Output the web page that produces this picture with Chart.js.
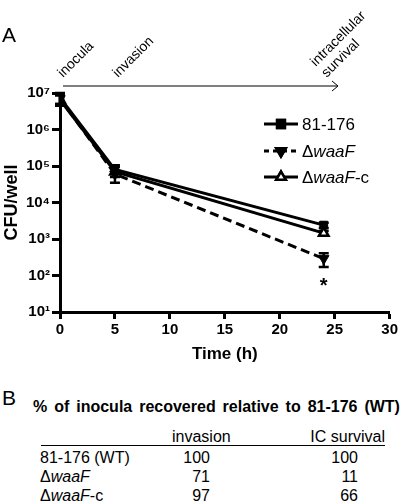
<!DOCTYPE html>
<html>
<head>
<meta charset="utf-8">
<script src="https://cdn.jsdelivr.net/npm/chart.js@4.4.0/dist/chart.umd.min.js"></script>
<style>
  body { margin: 0; background: #fff; font-family: "Liberation Sans", Arial, sans-serif; color: #000; }
  #wrap { position: relative; width: 400px; height: 503px; overflow: hidden; }
  #canvas { position: absolute; left: 0; top: 0; }
  .abs { position: absolute; white-space: nowrap; }
  .panel { font-size: 21px; }
  .tbl { font-size: 16px; line-height: 18px; }
  .r { text-align: right; }
  i { font-style: italic; }
</style>
</head>
<body>
<div id="wrap">
  <canvas id="canvas" width="400" height="370"></canvas>
  <div class="abs panel" style="left:2px; top:23px;">A</div>
  <div class="abs panel" style="left:2px; top:386px;">B</div>
  <div class="abs" id="tabTitle" style="left:33px; top:398px; font-size:16px; font-weight:bold; word-spacing:2.5px;"></div>
  <div id="tab"></div>
</div>
<script>
// panel A data
let times = [0, 5, 24];
let wt = [7.5e6, 8e4, 2.4e3];
let wtErr = [2.5e6, 1.5e4, 4e2];
let waaF = [7e6, 6e4, 2.9e2];
let waaFErr = [2e6, 1e4, 1.2e2];
let waaFc = [6.5e6, 7e4, 1.45e3];
let waaFcErr = [2e6, 3.5e4, 2e2];

let xTicks = [0, 5, 10, 15, 20, 25, 30];
let yTicks = [1e1, 1e2, 1e3, 1e4, 1e5, 1e6, 1e7];
let yTickLabels = ['10\u00B9', '10\u00B2', '10\u00B3', '10\u2074', '10\u2075', '10\u2076', '10\u2077'];

// stages above the plot
let stageX = [0, 5, 24];
let stageLabels = [['inocula'], ['invasion'], ['intracellular', 'survival']];
let arrowEnd = 25.3;
let starPoint = {x: 24, y: 66};

// panel B table
let tableTitle = '% of inocula recovered relative to 81-176 (WT)';
let tableCols = ['invasion', 'IC survival'];
let tableRows = ['81-176 (WT)', '\u0394<i>waaF</i>', '\u0394<i>waaF</i>-c'];
let invasionPct = [100, 71, 97];
let survivalPct = [100, 11, 66];

let FONT = '"Liberation Sans", Arial, sans-serif';
let errs = [wtErr, waaFErr, waaFcErr];

let extras = {
  id: 'extras',
  beforeDatasetsDraw(chart) {
    let ctx = chart.ctx;
    let xs = chart.scales.x, ys = chart.scales.y;
    ctx.save();
    ctx.strokeStyle = '#000';
    ctx.lineWidth = 2.5;
    chart.data.datasets.forEach(function(ds, i) {
      for (let j = 0; j < times.length; j++) {
        let x = xs.getPixelForValue(times[j]);
        let v = ds.data[j].y, e = errs[i][j];
        let y1 = ys.getPixelForValue(v + e);
        let y2 = ys.getPixelForValue(v - e);
        ctx.beginPath();
        ctx.moveTo(x, y1); ctx.lineTo(x, y2);
        ctx.moveTo(x - 5, y1); ctx.lineTo(x + 5, y1);
        ctx.moveTo(x - 5, y2); ctx.lineTo(x + 5, y2);
        ctx.stroke();
      }
    });
    ctx.restore();
  },
  afterDraw(chart) {
    let ctx = chart.ctx;
    let xs = chart.scales.x, ys = chart.scales.y;
    ctx.save();
    // arrow
    let ay = 86;
    let ax1 = xs.getPixelForValue(0) + 3, ax2 = xs.getPixelForValue(arrowEnd);
    ctx.strokeStyle = '#000';
    ctx.lineWidth = 1;
    ctx.beginPath();
    ctx.moveTo(ax1, ay); ctx.lineTo(ax2, ay);
    ctx.moveTo(ax2 - 6, ay - 5); ctx.lineTo(ax2, ay); ctx.lineTo(ax2 - 6, ay + 5);
    ctx.stroke();
    // rotated stage labels
    ctx.fillStyle = '#000';
    ctx.font = '14px ' + FONT;
    ctx.textAlign = 'left';
    ctx.textBaseline = 'alphabetic';
    stageLabels.forEach(function(lines, i) {
      let bx = xs.getPixelForValue(stageX[i]) + 3;
      let by = 78;
      for (let k = lines.length - 1, n = 0; k >= 0; k--, n++) {
        ctx.save();
        ctx.translate(bx - n * 11, by - n * 11);
        ctx.rotate(-Math.PI / 4);
        ctx.fillText(lines[k], 0, 0);
        ctx.restore();
      }
    });
    // significance mark
    ctx.font = 'bold 20px ' + FONT;
    ctx.textAlign = 'center';
    ctx.fillText('*', xs.getPixelForValue(starPoint.x), ys.getPixelForValue(starPoint.y) + 10);
    // legend
    let rows = [
      {y: 124, dash: [], style: 'rect', fill: '#000', rot: 0, parts: [['81-176', false]]},
      {y: 151, dash: [5, 4], style: 'triangle', fill: '#000', rot: 180, parts: [['\u0394', false], ['waaF', true]]},
      {y: 177, dash: [], style: 'triangle', fill: '#fff', rot: 0, parts: [['\u0394', false], ['waaF', true], ['-c', false]]}
    ];
    rows.forEach(function(r) {
      ctx.save();
      ctx.lineWidth = 3;
      ctx.setLineDash(r.dash);
      ctx.beginPath();
      ctx.moveTo(264, r.y); ctx.lineTo(298, r.y);
      ctx.stroke();
      ctx.restore();
      ctx.save();
      ctx.fillStyle = r.fill;
      ctx.lineWidth = 2.5;
      Chart.helpers.drawPoint(ctx, {pointStyle: r.style, radius: 5.5, rotation: r.rot, borderWidth: 2.5}, 281, r.y);
      ctx.fill();
      ctx.stroke();
      ctx.restore();
      let tx = 302;
      ctx.textAlign = 'left';
      ctx.textBaseline = 'middle';
      r.parts.forEach(function(p) {
        ctx.font = (p[1] ? 'italic ' : '') + '17px ' + FONT;
        ctx.fillText(p[0], tx, r.y + 1);
        tx += ctx.measureText(p[0]).width;
      });
    });
    ctx.restore();
  }
};

function pts(vals) {
  return vals.map(function(v, i) { return {x: times[i], y: v}; });
}

let configuracao = {
  type: 'line',
  data: {
    datasets: [{
      label: '81-176',
      data: pts(wt),
      borderColor: '#000',
      backgroundColor: '#000',
      borderWidth: 3,
      pointStyle: 'rect',
      pointRadius: 5.5,
      pointBorderWidth: 1
    }, {
      label: '\u0394waaF',
      data: pts(waaF),
      borderColor: '#000',
      backgroundColor: '#000',
      borderWidth: 3,
      borderDash: [9, 5],
      pointStyle: 'triangle',
      rotation: 180,
      pointRadius: 6,
      pointBorderWidth: 1
    }, {
      label: '\u0394waaF-c',
      data: pts(waaFc),
      borderColor: '#000',
      backgroundColor: '#fff',
      pointBackgroundColor: '#fff',
      borderWidth: 3,
      pointStyle: 'triangle',
      pointRadius: 5.5,
      pointBorderWidth: 2.5
    }]
  },
  options: {
    responsive: false,
    animation: false,
    devicePixelRatio: 1,
    layout: { padding: { top: 93, right: 10, left: 0, bottom: 0 } },
    plugins: {
      legend: { display: false },
      tooltip: { enabled: false }
    },
    scales: {
      x: {
        type: 'linear',
        min: 0,
        max: 30,
        afterFit: function(s) { s.height = 58; },
        afterBuildTicks: function(s) { s.ticks = xTicks.map(function(v) { return {value: v}; }); },
        ticks: { color: '#000', font: { family: FONT, size: 15, weight: 'bold' }, padding: 2 },
        grid: { drawOnChartArea: false, drawTicks: true, tickLength: 7, tickWidth: 3, tickColor: '#000', color: '#000' },
        border: { display: true, width: 3, color: '#000' },
        title: { display: true, text: 'Time (h)', color: '#000', font: { family: FONT, size: 17, weight: 'bold' }, padding: { top: 0, bottom: 5 } }
      },
      y: {
        type: 'logarithmic',
        min: 10,
        max: 1e7,
        afterFit: function(s) { s.width = 60; },
        afterBuildTicks: function(s) { s.ticks = yTicks.map(function(v) { return {value: v}; }); },
        ticks: {
          color: '#000',
          font: { family: FONT, size: 15, weight: 'bold' },
          padding: 2,
          callback: function(v) { let k = yTicks.indexOf(v); return k >= 0 ? yTickLabels[k] : ''; }
        },
        grid: { drawOnChartArea: false, drawTicks: true, tickLength: 8, tickWidth: 3, tickColor: '#000', color: '#000' },
        border: { display: true, width: 3, color: '#000' },
        title: { display: true, text: 'CFU/well', color: '#000', font: { family: FONT, size: 18, weight: 'bold' }, padding: { top: 1, bottom: 0 } }
      }
    }
  },
  plugins: [extras]
};

let chart = new Chart(document.getElementById('canvas'), configuracao);

// table for panel B
document.getElementById('tabTitle').textContent = tableTitle;
let html = '';
html += '<div class="abs tbl" style="left:172px; top:428px;">' + tableCols[0] + '</div>';
html += '<div class="abs tbl r" style="left:283px; width:102px; top:428px;">' + tableCols[1] + '</div>';
html += '<div class="abs" style="left:41px; top:445px; width:344px; border-top:1px solid #000;"></div>';
let rowY = [449, 468, 487];
for (let i = 0; i < tableRows.length; i++) {
  html += '<div class="abs tbl" style="left:40px; top:' + rowY[i] + 'px;">' + tableRows[i] + '</div>';
  html += '<div class="abs tbl r" style="left:160px; width:50px; top:' + rowY[i] + 'px;">' + invasionPct[i] + '</div>';
  html += '<div class="abs tbl r" style="left:308px; width:50px; top:' + rowY[i] + 'px;">' + survivalPct[i] + '</div>';
}
document.getElementById('tab').innerHTML = html;
</script>
</body>
</html>
